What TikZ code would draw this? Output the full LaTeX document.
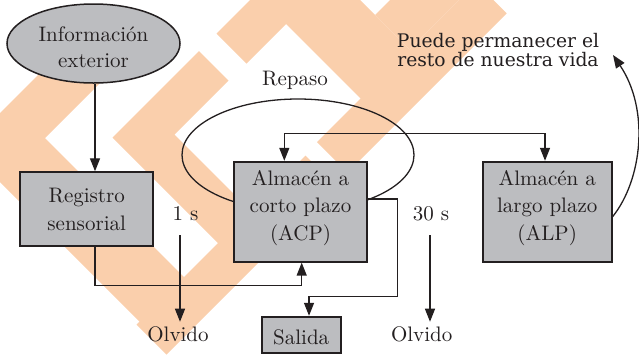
\documentclass[tikz,border=0pt]{standalone}
\usepackage{fontspec}
\setmainfont{lmroman10-regular.otf}
\newfontfamily\puedefont{DejaVu Serif}
\usetikzlibrary{arrows.meta,shapes.geometric}
\definecolor{wmorange}{RGB}{250,207,172}
\definecolor{boxgray}{RGB}{188,189,192}
\definecolor{ink}{RGB}{35,31,32}
\begin{document}
\begin{tikzpicture}[x=1bp,y=-1bp,
  >={Triangle[length=13bp,width=10bp]},
  wm/.style={fill=wmorange},
  boxnode/.style={draw=ink,fill=boxgray,line width=1.8bp,inner sep=0pt,align=center,text=ink,font=\fontsize{21bp}{27.5bp}\selectfont},
  lbl/.style={text=ink,inner sep=0pt,anchor=base,font=\fontsize{21bp}{25bp}\selectfont},
  conn/.style={draw=ink,line width=1.3bp},
]
\useasboundingbox (0,0) rectangle (639,355);
% watermark
\begin{scope}
\clip (0,0) rectangle (639,355);
\fill[wm] (250,0) -- (310,0) -- (246.5,63.5) -- (216.5,33.5) -- cycle;
\fill[wm] (262,0) -- (360,0) -- (420,60) -- (371,109) -- cycle;
\fill[wm] (476.2,-17.2) -- (506.7,13.3) -- (347.5,172.5) -- (317,142) -- cycle;
\fill[wm] (375,15) -- (390,0) -- (459,0) -- (409.5,49.5) -- cycle;
\fill[wm] (305.5,155.5) -- (335.5,185.5) -- (166.5,354.5) -- (136.5,324.5) -- cycle;
\fill[wm] (199,51) -- (228.5,80.5) -- (174.5,134.5) -- (265,225) -- (232.5,257.5) -- (112.5,137.5) -- cycle;
\fill[wm] (86.5,26.5) -- (121.5,61.5) -- (45,138) -- (198.5,291.5) -- (154,336) -- (-34.5,147.5) -- cycle;
\end{scope}
% rehearsal loop
\node[draw=ink,line width=1.3bp,ellipse,minimum width=232bp,minimum height=112bp,inner sep=0pt] (loop) at (298,155) {};
% nodes
\node[draw=ink,line width=1.5bp,fill=boxgray,ellipse,minimum width=173bp,minimum height=79bp,inner sep=0pt,align=center,text=ink,font=\fontsize{21bp}{26bp}\selectfont] (info) at (93.5,43.5) {\rule{0pt}{22.4bp}Información\\exterior};
\node[boxnode,minimum width=133bp,minimum height=74bp,font=\fontsize{21bp}{28bp}\selectfont] (reg) at (86.7,209.2) {Registro\\sensorial};
\node[boxnode,minimum width=132.4bp,minimum height=100bp] (acp) at (300.5,211.7) {Almacén a\\corto plazo\\(ACP)\rule[-12.8bp]{0pt}{0pt}};
\node[boxnode,minimum width=129bp,minimum height=100bp] (alp) at (547.2,211.7) {Almacén a\\largo plazo\\(ALP)\rule[-12.8bp]{0pt}{0pt}};
\node[boxnode,minimum width=79bp,minimum height=36.6bp] (sal) at (301.2,335) {\rule{0pt}{19bp}Salida};
% labels
\node[lbl] (rep) at (295,85) {Repaso};
\node[lbl] (t1) at (185.5,220) {1 s};
\node[lbl] (t30) at (431,220) {30 s};
\node[lbl] (olv1) at (178,341.7) {Olvido};
\node[lbl] (olv2) at (421.7,341.7) {Olvido};
\node[text=ink,inner sep=0pt,align=center,font=\puedefont\fontsize{18.7bp}{19bp}\selectfont] (lt) at (498,50.1) {Puede permanecer el\\resto de nuestra vida};
% coordinates
\coordinate (c1) at (95,285.7);
\coordinate (c2) at (420,133.3);
\coordinate (c3) at (397.3,296.7);
\coordinate (a1) at (180,235);
\coordinate (b1) at (180,321.7);
\coordinate (a2) at (430,235);
\coordinate (b2) at (430,321.7);
\coordinate (pend) at (613,55);
% connectors
\draw[conn,->] ([xshift=1.5bp]info.south) -- ([xshift=1.5bp]info.south |- reg.north);
\draw[conn,->] (c1 |- reg.south) -- (c1) -| ([xshift=1.2bp]acp.south);
\draw[conn,<->] ([xshift=-16.2bp]acp.north) |- (c2) -| ([xshift=-2.2bp]alp.north);
\draw[conn,->] ([yshift=12.7bp]acp.east) -| (c3) -| ([xshift=7.8bp]sal.north);
\draw[conn,->] (a1) -- (b1);
\draw[conn,->] (a2) -- (b2);
\draw[conn,->] ([yshift=-5bp]alp.east) .. controls (642,180) and (650,110) .. (pend);
\end{tikzpicture}
\end{document}
